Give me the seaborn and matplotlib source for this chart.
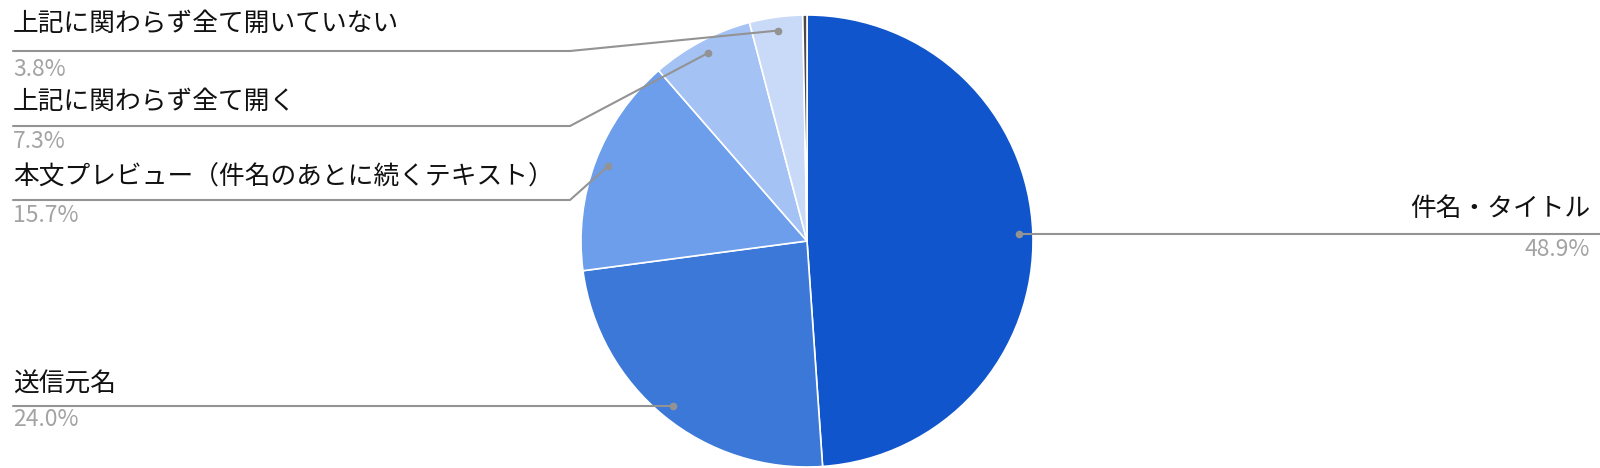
import numpy as np
import matplotlib
matplotlib.use("Agg")
import matplotlib.pyplot as plt
import seaborn as sns

# ---- data ----
categories = [
    "件名・タイトル",
    "送信元名",
    "本文プレビュー（件名のあとに続くテキスト）",
    "上記に関わらず全て開く",
    "上記に関わらず全て開いていない",
    "その他",
]
values = [48.9, 24.0, 15.7, 7.3, 3.8, 0.3]
show_label = [True, True, True, True, True, False]

# ---- style ----
sns.set_theme(style="white")
plt.rcParams['font.family'] = ['Noto Sans CJK JP', 'DejaVu Sans']
colors = sns.color_palette(["#1155cc", "#3c78d8", "#6d9eeb", "#a4c2f4", "#c9daf8", "#4a4a4a"])

W, H = 1600, 468
fig = plt.figure(figsize=(W / 100, H / 100), dpi=100)
ax = fig.add_axes([0, 0, 1, 1])

cx, cy, r = 807, H - 241, 226
wedges, _ = ax.pie(values, colors=colors, startangle=90, counterclock=False,
                   center=(cx, cy), radius=r,
                   wedgeprops=dict(edgecolor="white", linewidth=1.2))
ax.set_xlim(0, W)
ax.set_ylim(0, H)
ax.set_aspect("equal")
ax.axis("off")

line_c = "#939393"
pct_c = "#a3a3a3"
lab_fs, pct_fs = 18.5, 16.5
# layout: (side, line_y, text_y, pct_y) in pixel-from-top coords
layout = [
    ("right", 234, 209, 249),
    ("left", 406, 385, 420),
    ("left", 200, 178, 216),
    ("left", 126, 102, 141),
    ("left", 51, 24, 69),
    None,
]
left_x, elbow_x, right_x = 13, 570, 1590

for w, cat, v, show, lay in zip(wedges, categories, values, show_label, layout):
    if not show or lay is None:
        continue
    side, ly, ty, py = lay
    mid = np.deg2rad((w.theta1 + w.theta2) / 2)
    dx = cx + 0.94 * r * np.cos(mid)
    dy = cy + 0.94 * r * np.sin(mid)
    ly, ty, py = H - ly, H - ty, H - py
    if side == "right":
        ax.plot([dx, W], [dy, dy], color=line_c, lw=1.5, solid_capstyle="butt")
        ax.text(right_x, ty, cat, ha="right", va="center", fontsize=lab_fs, color="#111111")
        ax.text(right_x, py, f"{v:.1f}%", ha="right", va="center", fontsize=pct_fs, color=pct_c)
    else:
        if abs(dy - ly) < 3:
            ax.plot([left_x, dx], [ly, ly], color=line_c, lw=1.5)
        else:
            ax.plot([left_x, elbow_x, dx], [ly, ly, dy], color=line_c, lw=1.5)
        ax.text(left_x, ty, cat, ha="left", va="center", fontsize=lab_fs, color="#111111")
        ax.text(left_x, py, f"{v:.1f}%", ha="left", va="center", fontsize=pct_fs, color=pct_c)
    ax.plot([dx], [dy], "o", color=line_c, markersize=4.5, zorder=5)

fig.savefig("out.png", dpi=100, facecolor="white")
